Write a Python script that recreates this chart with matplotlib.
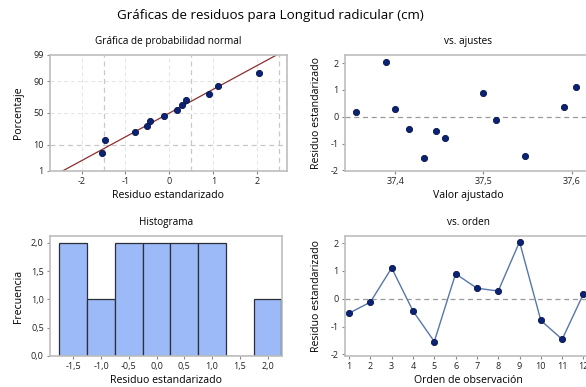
import numpy as np
import matplotlib
matplotlib.use("Agg")
import matplotlib.pyplot as plt
from matplotlib.ticker import FuncFormatter
from statistics import NormalDist

plt.rcParams['font.family'] = ['Open Sans', 'DejaVu Sans']
plt.rcParams['axes.unicode_minus'] = False

# residuos estandarizados, en orden de observacion
orden = [1, 2, 3, 4, 5, 6, 7, 8, 9, 10, 11, 12]
residuos = [-0.52, -0.12, 1.11, -0.44, -1.54, 0.90, 0.38, 0.28, 2.05, -0.78, -1.46, 0.18]
ajustes = [37.446, 37.514, 37.605, 37.415, 37.432, 37.500, 37.591, 37.400, 37.389, 37.456, 37.547, 37.356]

prob_ticks = [1, 10, 50, 90, 99]
hist_edges = [-1.75, -1.25, -0.75, -0.25, 0.25, 0.75, 1.25, 1.75, 2.25]

W, H = 586, 387
NAVY = "#0b2377"
SPINE = "#bdbdbd"
nd = NormalDist()

def comma(v, pos):
    s = "%g" % v
    return s.replace(".", ",")

def comma1(v, pos):
    return ("%.1f" % v).replace(".", ",")

def box(l, r, t, b):
    return [l / W, (H - b) / H, (r - l) / W, (b - t) / H]

def style(ax):
    for s in ax.spines.values():
        s.set_color(SPINE)
        s.set_linewidth(1.2)
    ax.tick_params(colors="#222222", labelsize=6.5, length=2.5, width=0.8, color="#888888", pad=2)

fig = plt.figure(figsize=(W / 100, H / 100), dpi=100)
fig.text(270 / W, 1 - 16 / H, "Gráficas de residuos para Longitud radicular (cm)",
         ha="center", va="center", fontsize=9.6)

# --- probabilidad normal
ax1 = fig.add_axes(box(50, 287, 55, 171))
style(ax1)
r = np.sort(residuos)
n = len(r)
pp = [(i + 1 - 0.3) / (n + 0.4) for i in range(n)]
z = [nd.inv_cdf(p) for p in pp]
mu, sd = np.mean(residuos), np.std(residuos, ddof=1)
zlo, zhi = nd.inv_cdf(0.01), nd.inv_cdf(0.99)
for xv in [-2, -1, 0, 1, 2]:
    ax1.axvline(xv, color="#e4e4e4", ls=(0, (4, 3)), lw=0.7, zorder=0)
for xv in [-1.5, 0.5, 2.5]:
    ax1.axvline(xv, color="#c8c8c8", ls=(0, (4, 3)), lw=0.9, zorder=0)
for p in [50, 90]:
    ax1.axhline(nd.inv_cdf(p / 100), color="#e4e4e4", ls=(0, (4, 3)), lw=0.7, zorder=0)
ax1.axhline(nd.inv_cdf(0.10), color="#c8c8c8", ls=(0, (4, 3)), lw=0.9, zorder=0)
ax1.plot([mu + sd * zlo, mu + sd * zhi], [zlo, zhi], color="#8b2e2e", lw=0.9, zorder=2)
ax1.scatter(r, z, s=20, color=NAVY, edgecolor="#061447", linewidth=0.6, zorder=3)
ax1.set_xlim(-2.72, 2.68)
ax1.set_ylim(zlo, zhi)
ax1.set_xticks([-2, -1, 0, 1, 2])
ax1.set_yticks([nd.inv_cdf(p / 100) for p in prob_ticks])
ax1.set_yticklabels([str(p) for p in prob_ticks])
ax1.set_title("Gráfica de probabilidad normal", fontsize=7.2, pad=8)
ax1.set_xlabel("Residuo estandarizado", fontsize=7.6, labelpad=3)
ax1.set_ylabel("Porcentaje", fontsize=7.6, labelpad=7)

# --- vs. ajustes
ax2 = fig.add_axes(box(345, 592, 55, 171))
style(ax2)
ax2.axhline(0, color="#9a9a9a", ls=(0, (4, 3)), lw=0.9, zorder=0)
ax2.scatter(ajustes, residuos, s=20, color=NAVY, edgecolor="#061447", linewidth=0.6, zorder=3)
ax2.set_xlim(37.343, 37.623)
ax2.set_ylim(-2.02, 2.3)
ax2.set_xticks([37.4, 37.5, 37.6])
ax2.set_yticks([-2, -1, 0, 1, 2])
ax2.xaxis.set_major_formatter(FuncFormatter(comma))
ax2.set_title("vs. ajustes", fontsize=7.2, pad=8)
ax2.set_xlabel("Valor ajustado", fontsize=7.6, labelpad=3)
ax2.set_ylabel("Residuo estandarizado", fontsize=7.6, labelpad=6)

# --- histograma
ax3 = fig.add_axes(box(50, 282, 236, 356))
style(ax3)
ax3.hist(residuos, bins=hist_edges, color="#9cbaf7", edgecolor="#2b2f3a", linewidth=0.9)
ax3.set_xlim(-1.92, 2.26)
ax3.set_ylim(0, 2.12)
ax3.set_xticks([-1.5, -1.0, -0.5, 0.0, 0.5, 1.0, 1.5, 2.0])
ax3.set_yticks([0, 0.5, 1.0, 1.5, 2.0])
ax3.xaxis.set_major_formatter(FuncFormatter(comma1))
ax3.yaxis.set_major_formatter(FuncFormatter(comma1))
ax3.set_title("Histograma", fontsize=7.2, pad=8)
ax3.set_xlabel("Residuo estandarizado", fontsize=7.6, labelpad=3)
ax3.set_ylabel("Frecuencia", fontsize=7.6, labelpad=5)

# --- vs. orden
ax4 = fig.add_axes(box(345, 592, 236, 356))
style(ax4)
ax4.axhline(0, color="#9a9a9a", ls=(0, (4, 3)), lw=0.9, zorder=0)
ax4.plot(orden, residuos, color="#5577aa", lw=1.0, zorder=2)
ax4.scatter(orden, residuos, s=20, color=NAVY, edgecolor="#061447", linewidth=0.6, zorder=3)
ax4.set_xlim(0.81, 12.4)
ax4.set_ylim(-2.06, 2.26)
ax4.set_xticks(orden)
ax4.set_yticks([-2, -1, 0, 1, 2])
ax4.set_title("vs. orden", fontsize=7.2, pad=8)
ax4.set_xlabel("Orden de observación", fontsize=7.6, labelpad=3)
ax4.set_ylabel("Residuo estandarizado", fontsize=7.6, labelpad=6)

fig.savefig("out.png", dpi=100)
